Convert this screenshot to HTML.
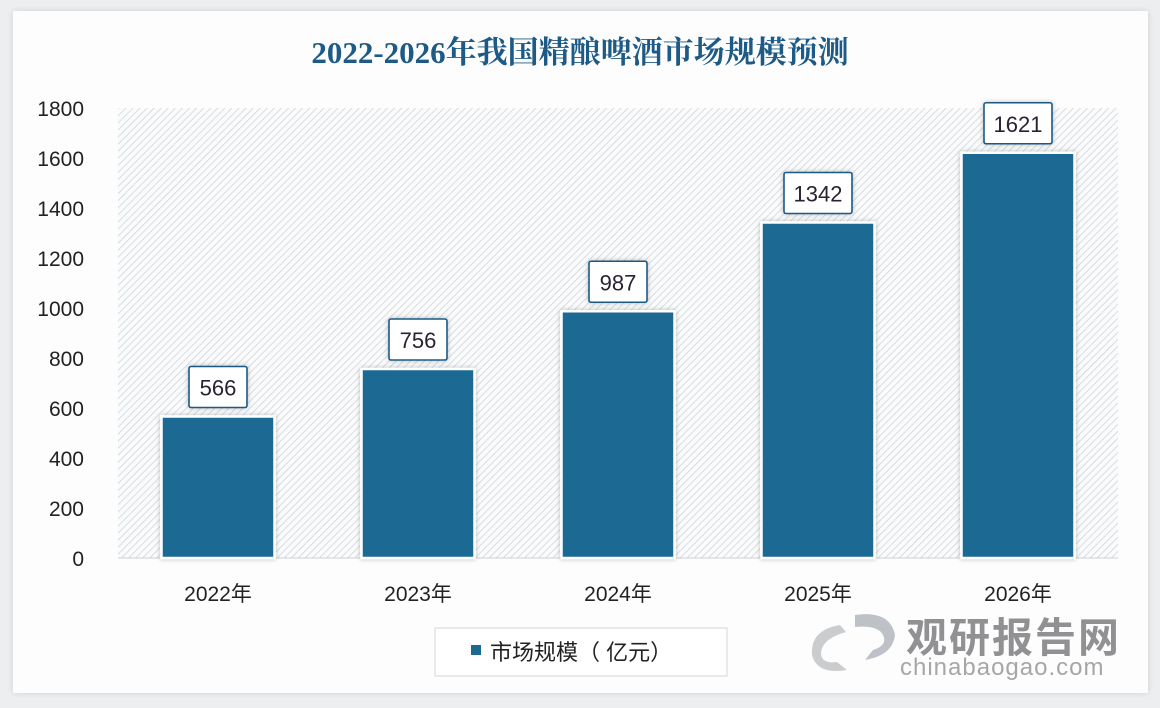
<!DOCTYPE html>
<html><head><meta charset="utf-8">
<style>
html,body{margin:0;padding:0;background:#eceef0;}
body{width:1160px;height:708px;position:relative;overflow:hidden;font-family:"Liberation Sans","Noto Sans CJK SC",sans-serif;}
#card{position:absolute;left:13px;top:11px;width:1135px;height:682px;background:#fdfdfe;box-shadow:0 0 6px rgba(0,0,0,0.12);}
</style></head>
<body>
<div id="card"></div>
<svg id="chart" width="1160" height="708" style="position:absolute;left:0;top:0">
<defs>
<pattern id="hatch" patternUnits="userSpaceOnUse" width="5" height="5" patternTransform="rotate(45)">
<rect width="5" height="5" fill="#fafbfc"/>
<line x1="0" y1="0" x2="0" y2="5" stroke="#cfd2d5" stroke-width="1.5"/>
</pattern>
<filter id="sh" x="-20%" y="-20%" width="140%" height="140%"><feDropShadow dx="0" dy="0" stdDeviation="2.5" flood-color="#000" flood-opacity="0.25"/></filter>
</defs>
<text x="580" y="63" text-anchor="middle" font-family="Liberation Serif,Noto Serif CJK SC,serif" font-weight="bold" font-size="31" fill="#1d5a86">2022-2026年我国精酿啤酒市场规模预测</text>
<rect x="118" y="108" width="1000" height="450" fill="url(#hatch)"/>
<g id="yaxis"></g><g id="bars"></g><g id="xaxis"></g>
<rect x="435" y="628" width="292" height="48" fill="#fff" stroke="#d4d6d8"/>
<rect x="471" y="645" width="10" height="10" fill="#1a6a93"/>
<text x="490" y="660" font-size="22" fill="#222">市场规模（ 亿元）</text>
<g opacity="0.75">
<path d="M840 625 q-30 5 -28 30 q5 20 35 15 l-10 -8 q-15 2 -16 -8 q0 -15 25 -22 z" fill="#bbbcbd"/>
<path d="M855 615 q35 -5 40 20 q-2 20 -30 25 l8 -10 q15 -5 10 -15 q-5 -10 -28 -8 z" fill="#a9afb5"/>
<text x="906" y="652" font-size="41" font-weight="bold" fill="#6e6e70" letter-spacing="2" font-family="Noto Sans CJK SC,sans-serif">观研报告网</text>
<text x="900" y="675" font-size="24" fill="#8a8a8c" letter-spacing="1">chinabaogao.com</text>
</g>
</svg>
<script>
const categories = ["2022年","2023年","2024年","2025年","2026年"];
const values = [566, 756, 987, 1342, 1621];
const yTicks = [0,200,400,600,800,1000,1200,1400,1600,1800];
const NS="http://www.w3.org/2000/svg";
const X0=118, PW=1000, Y0=558, PH=450, YMAX=1800;
const y = v => Y0 - v/YMAX*PH;
const bw = PW/categories.length;
const xc = i => X0 + bw*(i+0.5);
function mk(tag, attrs, parent){const e=document.createElementNS(NS,tag);for(const k in attrs)e.setAttribute(k,attrs[k]);parent.appendChild(e);return e;}
const ya=document.getElementById('yaxis'), bg=document.getElementById('bars'), xa=document.getElementById('xaxis');
yTicks.forEach(t=>{
  const e=mk('text',{x:84,y:y(t)+8,'text-anchor':'end','font-size':21,fill:'#222'},ya);
  
  
  e.textContent=t;
});
const base=mk('line',{x1:X0,x2:X0+PW,y1:Y0,y2:Y0,stroke:'#d0d0d0'},ya);


categories.forEach((c,i)=>{
  const v=values[i], top=y(v), w=113, cx=xc(i);
  const r=mk('rect',{x:cx-w/2,y:top,width:w,height:Y0-top,fill:'#1a6a93',stroke:'#fff','stroke-width':2.5,filter:'url(#sh)'},bg);
  
  
  const s=String(v), lw=s.length>3?68:58;
  const b=mk('rect',{x:cx-lw/2,y:top-50,width:lw,height:41,fill:'#fff',stroke:'#1d5a86','stroke-width':1.6,rx:2,filter:'url(#sh)'},bg);
  
  
  const t=mk('text',{x:cx,y:top-21,'text-anchor':'middle','font-size':22,fill:'#2a2233'},bg);
  
  
  t.textContent=s;
  const xl=mk('text',{x:cx,y:601,'text-anchor':'middle','font-size':21,fill:'#222'},xa);
  
  
  xl.textContent=c;
});
</script>
</body></html>
